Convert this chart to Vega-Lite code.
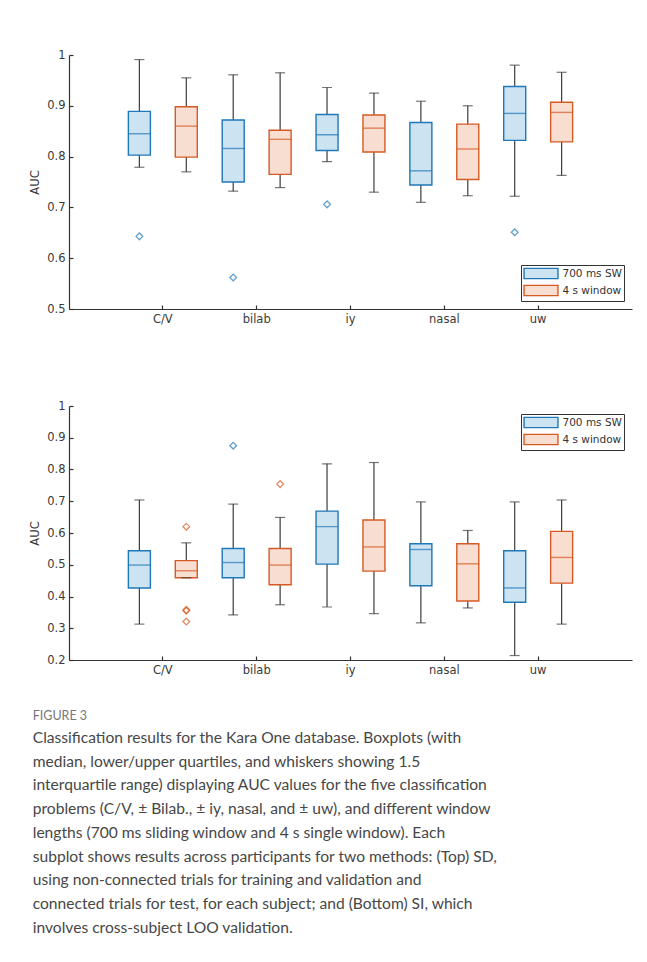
{
  "$schema": "https://vega.github.io/schema/vega-lite/v6.json",
  "padding": {"left": 29, "top": 49, "right": 10, "bottom": 5},
  "background": "white",
  "datasets": {
    "sdBoxes": [
      {"problem": "C/V", "method": "700 ms SW", "lo": 0.779, "q1": 0.803, "med": 0.845, "q3": 0.889, "hi": 0.991},
      {"problem": "C/V", "method": "4 s window", "lo": 0.770, "q1": 0.799, "med": 0.860, "q3": 0.898, "hi": 0.955},
      {"problem": "bilab", "method": "700 ms SW", "lo": 0.732, "q1": 0.750, "med": 0.816, "q3": 0.872, "hi": 0.961},
      {"problem": "bilab", "method": "4 s window", "lo": 0.739, "q1": 0.765, "med": 0.834, "q3": 0.852, "hi": 0.965},
      {"problem": "iy", "method": "700 ms SW", "lo": 0.790, "q1": 0.812, "med": 0.843, "q3": 0.883, "hi": 0.936},
      {"problem": "iy", "method": "4 s window", "lo": 0.730, "q1": 0.809, "med": 0.856, "q3": 0.882, "hi": 0.925},
      {"problem": "nasal", "method": "700 ms SW", "lo": 0.710, "q1": 0.744, "med": 0.772, "q3": 0.867, "hi": 0.909},
      {"problem": "nasal", "method": "4 s window", "lo": 0.723, "q1": 0.755, "med": 0.815, "q3": 0.864, "hi": 0.900},
      {"problem": "uw", "method": "700 ms SW", "lo": 0.722, "q1": 0.832, "med": 0.885, "q3": 0.938, "hi": 0.980},
      {"problem": "uw", "method": "4 s window", "lo": 0.763, "q1": 0.829, "med": 0.887, "q3": 0.907, "hi": 0.966}
    ],
    "sdOut": [
      {"problem": "C/V", "method": "700 ms SW", "value": 0.643},
      {"problem": "bilab", "method": "700 ms SW", "value": 0.562},
      {"problem": "iy", "method": "700 ms SW", "value": 0.706},
      {"problem": "uw", "method": "700 ms SW", "value": 0.651}
    ],
    "siBoxes": [
      {"problem": "C/V", "method": "700 ms SW", "lo": 0.313, "q1": 0.427, "med": 0.499, "q3": 0.544, "hi": 0.704},
      {"problem": "C/V", "method": "4 s window", "lo": 0.459, "q1": 0.459, "med": 0.481, "q3": 0.513, "hi": 0.569},
      {"problem": "bilab", "method": "700 ms SW", "lo": 0.342, "q1": 0.459, "med": 0.507, "q3": 0.551, "hi": 0.691},
      {"problem": "bilab", "method": "4 s window", "lo": 0.374, "q1": 0.437, "med": 0.499, "q3": 0.551, "hi": 0.649},
      {"problem": "iy", "method": "700 ms SW", "lo": 0.367, "q1": 0.502, "med": 0.620, "q3": 0.669, "hi": 0.818},
      {"problem": "iy", "method": "4 s window", "lo": 0.346, "q1": 0.480, "med": 0.556, "q3": 0.641, "hi": 0.822},
      {"problem": "nasal", "method": "700 ms SW", "lo": 0.317, "q1": 0.434, "med": 0.548, "q3": 0.566, "hi": 0.698},
      {"problem": "nasal", "method": "4 s window", "lo": 0.364, "q1": 0.386, "med": 0.503, "q3": 0.566, "hi": 0.608},
      {"problem": "uw", "method": "700 ms SW", "lo": 0.214, "q1": 0.382, "med": 0.427, "q3": 0.544, "hi": 0.698},
      {"problem": "uw", "method": "4 s window", "lo": 0.313, "q1": 0.442, "med": 0.523, "q3": 0.605, "hi": 0.704}
    ],
    "siOut": [
      {"problem": "C/V", "method": "4 s window", "value": 0.620},
      {"problem": "C/V", "method": "4 s window", "value": 0.358},
      {"problem": "C/V", "method": "4 s window", "value": 0.355},
      {"problem": "C/V", "method": "4 s window", "value": 0.321},
      {"problem": "bilab", "method": "700 ms SW", "value": 0.875},
      {"problem": "bilab", "method": "4 s window", "value": 0.754}
    ]
  },
  "title": {
    "text": "FIGURE 3",
    "subtitle": [
      "Classification results for the Kara One database. Boxplots (with",
      "median, lower/upper quartiles, and whiskers showing 1.5",
      "interquartile range) displaying AUC values for the five classification",
      "problems (C/V, ± Bilab., ± iy, nasal, and ± uw), and different window",
      "lengths (700 ms sliding window and 4 s single window). Each",
      "subplot shows results across participants for two methods: (Top) SD,",
      "using non-connected trials for training and validation and",
      "connected trials for test, for each subject; and (Bottom) SI, which",
      "involves cross-subject LOO validation."
    ],
    "orient": "bottom",
    "anchor": "start",
    "frame": "bounds",
    "offset": 34,
    "dx": 3,
    "font": "Lato",
    "fontSize": 12.5,
    "fontWeight": "normal",
    "color": "#777777",
    "subtitleFont": "Lato",
    "subtitleFontSize": 15.6,
    "subtitleColor": "#474747",
    "subtitleLineHeight": 23.7,
    "subtitlePadding": 9
  },
  "spacing": 75,
  "vconcat": [
    {
      "width": 563,
      "height": 254,
      "encoding": {
        "x": {"field": "problem", "type": "nominal", "sort": ["C/V", "bilab", "iy", "nasal", "uw"],
              "scale": {"paddingInner": 0, "paddingOuter": 0.5},
              "axis": {"title": null, "labelAngle": 0}},
        "xOffset": {"field": "method", "type": "nominal", "sort": ["700 ms SW", "4 s window"],
                    "scale": {"paddingInner": 0, "paddingOuter": 0}}
      },
      "layer": [
        {
          "data": {"name": "sdBoxes"},
          "mark": {"type": "rule", "color": "#3c3c3c", "strokeWidth": 1.2},
          "encoding": {
            "y": {"field": "lo", "type": "quantitative", "scale": {"domain": [0.5, 1], "nice": false, "zero": false},
                  "axis": {"title": "AUC", "values": [0.5, 0.6, 0.7, 0.8, 0.9, 1], "format": ".1~f", "labelOverlap": false}},
            "y2": {"field": "hi"}
          }
        },
        {
          "data": {"name": "sdBoxes"},
          "mark": {"type": "bar", "size": 22, "strokeWidth": 1.4},
          "encoding": {
            "y": {"field": "q1", "type": "quantitative", "axis": {"title": "AUC", "values": [0.5, 0.6, 0.7, 0.8, 0.9, 1], "format": ".1~f", "labelOverlap": false}},
            "y2": {"field": "q3"},
            "fill": {"field": "method", "type": "nominal",
                     "scale": {"domain": ["700 ms SW", "4 s window"], "range": ["#cce3f2", "#f8ddd1"]},
                     "legend": {"orient": "bottom-right", "offset": 8}},
            "stroke": {"field": "method", "type": "nominal",
                       "scale": {"domain": ["700 ms SW", "4 s window"], "range": ["#1f78b8", "#d65a24"]},
                       "legend": {"orient": "bottom-right", "offset": 8}}
          }
        },
        {
          "data": {"name": "sdBoxes"},
          "mark": {"type": "tick", "orient": "horizontal", "size": 22, "thickness": 1.4},
          "encoding": {
            "y": {"field": "med", "type": "quantitative", "axis": {"title": "AUC", "values": [0.5, 0.6, 0.7, 0.8, 0.9, 1], "format": ".1~f", "labelOverlap": false}},
            "color": {"field": "method", "type": "nominal",
                      "scale": {"domain": ["700 ms SW", "4 s window"], "range": ["#1f78b8", "#d65a24"]},
                      "legend": null}
          }
        },
        {
          "data": {"name": "sdBoxes"},
          "mark": {"type": "tick", "orient": "horizontal", "size": 10, "thickness": 1.2, "color": "#3c3c3c"},
          "encoding": {"y": {"field": "lo", "type": "quantitative", "axis": {"title": "AUC", "values": [0.5, 0.6, 0.7, 0.8, 0.9, 1], "format": ".1~f", "labelOverlap": false}}}
        },
        {
          "data": {"name": "sdBoxes"},
          "mark": {"type": "tick", "orient": "horizontal", "size": 10, "thickness": 1.2, "color": "#3c3c3c"},
          "encoding": {"y": {"field": "hi", "type": "quantitative", "axis": {"title": "AUC", "values": [0.5, 0.6, 0.7, 0.8, 0.9, 1], "format": ".1~f", "labelOverlap": false}}}
        },
        {
          "data": {"name": "sdOut"},
          "mark": {"type": "point", "shape": "diamond", "filled": false, "size": 45, "strokeWidth": 1.3},
          "encoding": {
            "y": {"field": "value", "type": "quantitative", "axis": {"title": "AUC", "values": [0.5, 0.6, 0.7, 0.8, 0.9, 1], "format": ".1~f", "labelOverlap": false}},
            "stroke": {"field": "method", "type": "nominal"}
          }
        }
      ]
    },
    {
      "width": 563,
      "height": 254,
      "encoding": {
        "x": {"field": "problem", "type": "nominal", "sort": ["C/V", "bilab", "iy", "nasal", "uw"],
              "scale": {"paddingInner": 0, "paddingOuter": 0.5},
              "axis": {"title": null, "labelAngle": 0}},
        "xOffset": {"field": "method", "type": "nominal", "sort": ["700 ms SW", "4 s window"],
                    "scale": {"domain": ["700 ms SW", "4 s window"], "paddingInner": 0, "paddingOuter": 0}}
      },
      "layer": [
        {
          "data": {"name": "siBoxes"},
          "mark": {"type": "rule", "color": "#3c3c3c", "strokeWidth": 1.2},
          "encoding": {
            "y": {"field": "lo", "type": "quantitative", "scale": {"domain": [0.2, 1], "nice": false, "zero": false},
                  "axis": {"title": "AUC", "values": [0.2, 0.3, 0.4, 0.5, 0.6, 0.7, 0.8, 0.9, 1], "format": ".1~f", "labelOverlap": false}},
            "y2": {"field": "hi"}
          }
        },
        {
          "data": {"name": "siBoxes"},
          "mark": {"type": "bar", "size": 22, "strokeWidth": 1.4},
          "encoding": {
            "y": {"field": "q1", "type": "quantitative", "axis": {"title": "AUC", "values": [0.2, 0.3, 0.4, 0.5, 0.6, 0.7, 0.8, 0.9, 1], "format": ".1~f", "labelOverlap": false}},
            "y2": {"field": "q3"},
            "fill": {"field": "method", "type": "nominal",
                     "scale": {"domain": ["700 ms SW", "4 s window"], "range": ["#cce3f2", "#f8ddd1"]},
                     "legend": {"orient": "top-right", "offset": 8}},
            "stroke": {"field": "method", "type": "nominal",
                       "scale": {"domain": ["700 ms SW", "4 s window"], "range": ["#1f78b8", "#d65a24"]},
                       "legend": {"orient": "top-right", "offset": 8}}
          }
        },
        {
          "data": {"name": "siBoxes"},
          "mark": {"type": "tick", "orient": "horizontal", "size": 22, "thickness": 1.4},
          "encoding": {
            "y": {"field": "med", "type": "quantitative", "axis": {"title": "AUC", "values": [0.2, 0.3, 0.4, 0.5, 0.6, 0.7, 0.8, 0.9, 1], "format": ".1~f", "labelOverlap": false}},
            "color": {"field": "method", "type": "nominal",
                      "scale": {"domain": ["700 ms SW", "4 s window"], "range": ["#1f78b8", "#d65a24"]},
                      "legend": null}
          }
        },
        {
          "data": {"name": "siBoxes"},
          "mark": {"type": "tick", "orient": "horizontal", "size": 10, "thickness": 1.2, "color": "#3c3c3c"},
          "encoding": {"y": {"field": "lo", "type": "quantitative", "axis": {"title": "AUC", "values": [0.2, 0.3, 0.4, 0.5, 0.6, 0.7, 0.8, 0.9, 1], "format": ".1~f", "labelOverlap": false}}}
        },
        {
          "data": {"name": "siBoxes"},
          "mark": {"type": "tick", "orient": "horizontal", "size": 10, "thickness": 1.2, "color": "#3c3c3c"},
          "encoding": {"y": {"field": "hi", "type": "quantitative", "axis": {"title": "AUC", "values": [0.2, 0.3, 0.4, 0.5, 0.6, 0.7, 0.8, 0.9, 1], "format": ".1~f", "labelOverlap": false}}}
        },
        {
          "data": {"name": "siOut"},
          "mark": {"type": "point", "shape": "diamond", "filled": false, "size": 45, "strokeWidth": 1.3},
          "encoding": {
            "y": {"field": "value", "type": "quantitative", "axis": {"title": "AUC", "values": [0.2, 0.3, 0.4, 0.5, 0.6, 0.7, 0.8, 0.9, 1], "format": ".1~f", "labelOverlap": false}},
            "stroke": {"field": "method", "type": "nominal"}
          }
        }
      ]
    }
  ],
  "config": {
    "font": "DejaVu Sans",
    "view": {"stroke": null},
    "axis": {
      "grid": false,
      "domainColor": "#333333",
      "domainWidth": 1.2,
      "tickColor": "#333333",
      "tickWidth": 1.2,
      "tickSize": -4,
      "labelFont": "DejaVu Sans",
      "labelFontSize": 11.5,
      "labelColor": "#3a3a3a",
      "labelPadding": 8,
      "labelOverlap": false,
      "titleFont": "DejaVu Sans",
      "titleFontSize": 11.5,
      "titleFontWeight": "normal",
      "titleColor": "#3a3a3a",
      "titlePadding": 6
    },
    "legend": {
      "title": null,
      "strokeColor": "#333333",
      "fillColor": "white",
      "padding": 2,
      "symbolType": "M-3,-0.9H3V0.9H-3Z",
      "symbolSize": 128,
      "symbolOffset": 11.5,
      "symbolStrokeWidth": 1.4,
      "symbolOpacity": 1,
      "labelFont": "DejaVu Sans",
      "labelFontSize": 10.5,
      "labelColor": "#333333",
      "labelOffset": 15,
      "rowPadding": 0
    }
  }
}
